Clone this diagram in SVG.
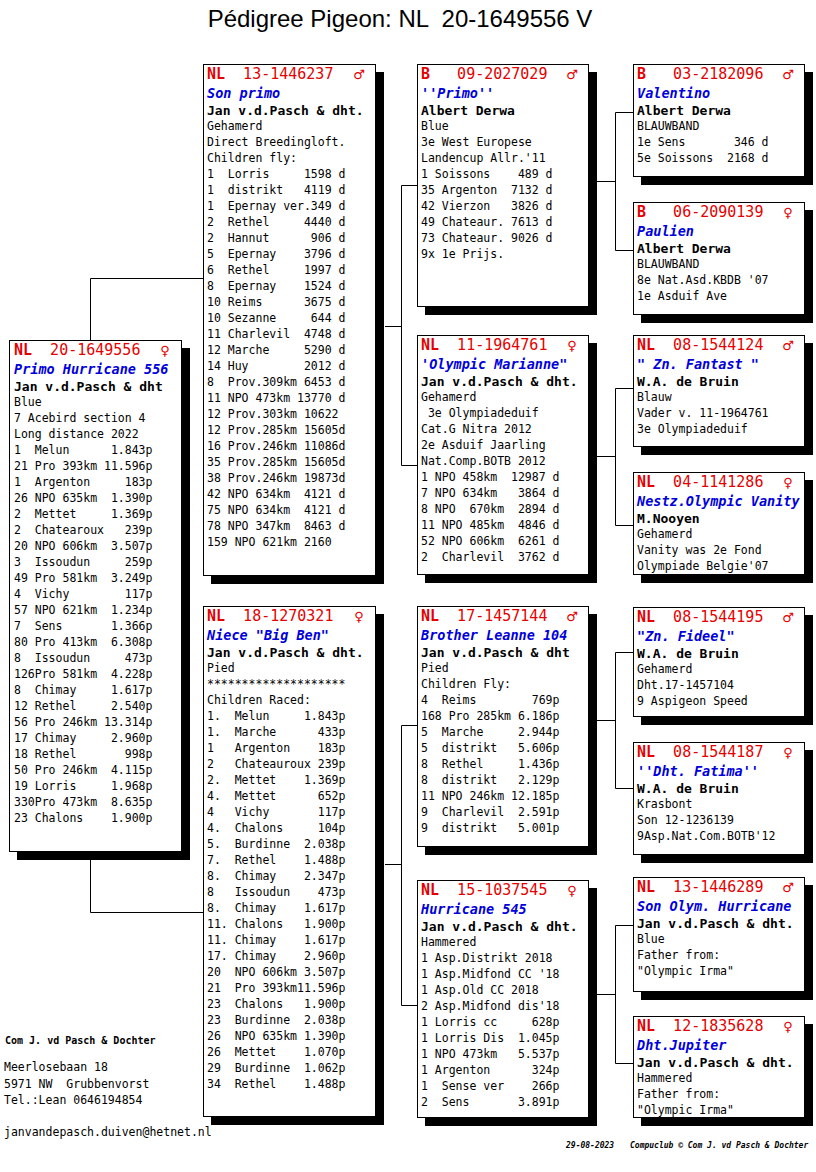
<svg xmlns="http://www.w3.org/2000/svg" width="816" height="1172" viewBox="0 0 816 1172">
<style>
text{white-space:pre}
.bg{fill:#fff}
.sh{fill:#000}
.bx{fill:#fff;stroke:#000;stroke-width:1}
.hd{font-family:"DejaVu Sans Mono",monospace;font-size:15px;fill:#e60000}
.b{font-weight:bold}
.gs{font-family:"DejaVu Sans",sans-serif;font-size:13px;fill:#e60000;text-anchor:middle}
.nm{font-family:"DejaVu Sans Mono",monospace;font-size:13.5px;font-style:italic;font-weight:bold;fill:#0000dd}
.ow{font-family:"DejaVu Sans Mono",monospace;font-size:13px;font-weight:bold;fill:#000}
.tx{font-family:"DejaVu Sans Mono",monospace;font-size:11.5px;fill:#000}
.ft{font-family:"DejaVu Sans Mono",monospace;font-size:8px;font-style:italic;font-weight:bold;fill:#000}
.con{fill:none;stroke:#000;stroke-width:1}
</style>
<rect class="bg" x="0" y="0" width="816" height="1172"/>
<text xml:space="preserve" x="400" y="27" font-family="Liberation Sans, Arial, sans-serif" font-size="24" text-anchor="middle">Pédigree Pigeon: NL  20-1649556 V</text>

<g id="connectors">
<path class="con" d="M90.5,340 V278.5 H203"/>
<path class="con" d="M90.5,860 V912.5 H203"/>
<path class="con" d="M385,326.5 H401.5"/>
<path class="con" d="M417,185.5 H401.5 V465.5 H417"/>
<path class="con" d="M385,864.5 H401.5"/>
<path class="con" d="M417,725.5 H401.5 V1005.5 H417"/>
<path class="con" d="M597,181.5 H615.5"/>
<path class="con" d="M633,112.5 H615.5 V250.5 H633"/>
<path class="con" d="M597,456.5 H615.5"/>
<path class="con" d="M633,388.5 H615.5 V525.5 H633"/>
<path class="con" d="M597,720.5 H615.5"/>
<path class="con" d="M633,652.5 H615.5 V788.5 H633"/>
<path class="con" d="M597,994.5 H615.5"/>
<path class="con" d="M633,925.5 H615.5 V1063.5 H633"/>
</g>

<g id="n-20-1649556">
<rect class="sh" x="17" y="348" width="173" height="512"/>
<rect class="bx" x="9.5" y="340.5" width="172" height="511"/>
<text xml:space="preserve" class="hd" x="14" y="355"><tspan class="b">NL</tspan>  20-1649556</text>
<text class="gs" x="165" y="355">♀</text>
<text xml:space="preserve" class="nm" x="14" y="374">Primo Hurricane 556</text>
<text xml:space="preserve" class="ow" x="14" y="391">Jan v.d.Pasch &amp; dht</text>
<text xml:space="preserve" class="tx" x="14" y="406"><tspan x="14">Blue</tspan><tspan x="14" dy="16">7 Acebird section 4</tspan><tspan x="14" dy="16">Long distance 2022</tspan><tspan x="14" dy="16">1  Melun      1.843p</tspan><tspan x="14" dy="16">21 Pro 393km 11.596p</tspan><tspan x="14" dy="16">1  Argenton     183p</tspan><tspan x="14" dy="16">26 NPO 635km  1.390p</tspan><tspan x="14" dy="16">2  Mettet     1.369p</tspan><tspan x="14" dy="16">2  Chatearoux   239p</tspan><tspan x="14" dy="16">20 NPO 606km  3.507p</tspan><tspan x="14" dy="16">3  Issoudun     259p</tspan><tspan x="14" dy="16">49 Pro 581km  3.249p</tspan><tspan x="14" dy="16">4  Vichy        117p</tspan><tspan x="14" dy="16">57 NPO 621km  1.234p</tspan><tspan x="14" dy="16">7  Sens       1.366p</tspan><tspan x="14" dy="16">80 Pro 413km  6.308p</tspan><tspan x="14" dy="16">8  Issoudun     473p</tspan><tspan x="14" dy="16">126Pro 581km  4.228p</tspan><tspan x="14" dy="16">8  Chimay     1.617p</tspan><tspan x="14" dy="16">12 Rethel     2.540p</tspan><tspan x="14" dy="16">56 Pro 246km 13.314p</tspan><tspan x="14" dy="16">17 Chimay     2.960p</tspan><tspan x="14" dy="16">18 Rethel       998p</tspan><tspan x="14" dy="16">50 Pro 246km  4.115p</tspan><tspan x="14" dy="16">19 Lorris     1.968p</tspan><tspan x="14" dy="16">330Pro 473km  8.635p</tspan><tspan x="14" dy="16">23 Chalons    1.900p</tspan></text>
</g>

<g id="n-13-1446237">
<rect class="sh" x="211" y="72" width="173" height="512"/>
<rect class="bx" x="203.5" y="64.5" width="172" height="511"/>
<text xml:space="preserve" class="hd" x="207" y="79"><tspan class="b">NL</tspan>  13-1446237</text>
<text class="gs" x="359" y="79">♂</text>
<text xml:space="preserve" class="nm" x="207" y="98">Son primo</text>
<text xml:space="preserve" class="ow" x="207" y="115">Jan v.d.Pasch &amp; dht.</text>
<text xml:space="preserve" class="tx" x="207" y="130"><tspan x="207">Gehamerd</tspan><tspan x="207" dy="16">Direct Breedingloft.</tspan><tspan x="207" dy="16">Children fly:</tspan><tspan x="207" dy="16">1  Lorris     1598 d</tspan><tspan x="207" dy="16">1  distrikt   4119 d</tspan><tspan x="207" dy="16">1  Epernay ver.349 d</tspan><tspan x="207" dy="16">2  Rethel     4440 d</tspan><tspan x="207" dy="16">2  Hannut      906 d</tspan><tspan x="207" dy="16">5  Epernay    3796 d</tspan><tspan x="207" dy="16">6  Rethel     1997 d</tspan><tspan x="207" dy="16">8  Epernay    1524 d</tspan><tspan x="207" dy="16">10 Reims      3675 d</tspan><tspan x="207" dy="16">10 Sezanne     644 d</tspan><tspan x="207" dy="16">11 Charlevil  4748 d</tspan><tspan x="207" dy="16">12 Marche     5290 d</tspan><tspan x="207" dy="16">14 Huy        2012 d</tspan><tspan x="207" dy="16">8  Prov.309km 6453 d</tspan><tspan x="207" dy="16">11 NPO 473km 13770 d</tspan><tspan x="207" dy="16">12 Prov.303km 10622</tspan><tspan x="207" dy="16">12 Prov.285km 15605d</tspan><tspan x="207" dy="16">16 Prov.246km 11086d</tspan><tspan x="207" dy="16">35 Prov.285km 15605d</tspan><tspan x="207" dy="16">38 Prov.246km 19873d</tspan><tspan x="207" dy="16">42 NPO 634km  4121 d</tspan><tspan x="207" dy="16">75 NPO 634km  4121 d</tspan><tspan x="207" dy="16">78 NPO 347km  8463 d</tspan><tspan x="207" dy="16">159 NPO 621km 2160</tspan></text>
</g>

<g id="n-18-1270321">
<rect class="sh" x="211" y="614" width="173" height="511"/>
<rect class="bx" x="203.5" y="606.5" width="172" height="510"/>
<text xml:space="preserve" class="hd" x="207" y="621"><tspan class="b">NL</tspan>  18-1270321</text>
<text class="gs" x="359" y="621">♀</text>
<text xml:space="preserve" class="nm" x="207" y="640">Niece "Big Ben"</text>
<text xml:space="preserve" class="ow" x="207" y="657">Jan v.d.Pasch &amp; dht.</text>
<text xml:space="preserve" class="tx" x="207" y="672"><tspan x="207">Pied</tspan><tspan x="207" dy="16">********************</tspan><tspan x="207" dy="16">Children Raced:</tspan><tspan x="207" dy="16">1.  Melun     1.843p</tspan><tspan x="207" dy="16">1.  Marche      433p</tspan><tspan x="207" dy="16">1   Argenton    183p</tspan><tspan x="207" dy="16">2   Chateauroux 239p</tspan><tspan x="207" dy="16">2.  Mettet    1.369p</tspan><tspan x="207" dy="16">4.  Mettet      652p</tspan><tspan x="207" dy="16">4   Vichy       117p</tspan><tspan x="207" dy="16">4.  Chalons     104p</tspan><tspan x="207" dy="16">5.  Burdinne  2.038p</tspan><tspan x="207" dy="16">7.  Rethel    1.488p</tspan><tspan x="207" dy="16">8.  Chimay    2.347p</tspan><tspan x="207" dy="16">8   Issoudun    473p</tspan><tspan x="207" dy="16">8.  Chimay    1.617p</tspan><tspan x="207" dy="16">11. Chalons   1.900p</tspan><tspan x="207" dy="16">11. Chimay    1.617p</tspan><tspan x="207" dy="16">17. Chimay    2.960p</tspan><tspan x="207" dy="16">20  NPO 606km 3.507p</tspan><tspan x="207" dy="16">21  Pro 393km11.596p</tspan><tspan x="207" dy="16">23  Chalons   1.900p</tspan><tspan x="207" dy="16">23  Burdinne  2.038p</tspan><tspan x="207" dy="16">26  NPO 635km 1.390p</tspan><tspan x="207" dy="16">26  Mettet    1.070p</tspan><tspan x="207" dy="16">29  Burdinne  1.062p</tspan><tspan x="207" dy="16">34  Rethel    1.488p</tspan></text>
</g>

<g id="n-09-2027029">
<rect class="sh" x="425" y="72" width="172" height="243"/>
<rect class="bx" x="417.5" y="64.5" width="171" height="242"/>
<text xml:space="preserve" class="hd" x="421" y="79"><tspan class="b">B</tspan>   09-2027029</text>
<text class="gs" x="572" y="79">♂</text>
<text xml:space="preserve" class="nm" x="421" y="98">''Primo''</text>
<text xml:space="preserve" class="ow" x="421" y="115">Albert Derwa</text>
<text xml:space="preserve" class="tx" x="421" y="130"><tspan x="421">Blue</tspan><tspan x="421" dy="16">3e West Europese</tspan><tspan x="421" dy="16">Landencup Allr.'11</tspan><tspan x="421" dy="16">1 Soissons    489 d</tspan><tspan x="421" dy="16">35 Argenton  7132 d</tspan><tspan x="421" dy="16">42 Vierzon   3826 d</tspan><tspan x="421" dy="16">49 Chateaur. 7613 d</tspan><tspan x="421" dy="16">73 Chateaur. 9026 d</tspan><tspan x="421" dy="16">9x 1e Prijs.</tspan></text>
</g>

<g id="n-11-1964761">
<rect class="sh" x="425" y="343" width="172" height="240"/>
<rect class="bx" x="417.5" y="335.5" width="171" height="239"/>
<text xml:space="preserve" class="hd" x="421" y="350"><tspan class="b">NL</tspan>  11-1964761</text>
<text class="gs" x="572" y="350">♀</text>
<text xml:space="preserve" class="nm" x="421" y="369">'Olympic Marianne"</text>
<text xml:space="preserve" class="ow" x="421" y="386">Jan v.d.Pasch &amp; dht.</text>
<text xml:space="preserve" class="tx" x="421" y="401"><tspan x="421">Gehamerd</tspan><tspan x="421" dy="16"> 3e Olympiadeduif</tspan><tspan x="421" dy="16">Cat.G Nitra 2012</tspan><tspan x="421" dy="16">2e Asduif Jaarling</tspan><tspan x="421" dy="16">Nat.Comp.BOTB 2012</tspan><tspan x="421" dy="16">1 NPO 458km  12987 d</tspan><tspan x="421" dy="16">7 NPO 634km   3864 d</tspan><tspan x="421" dy="16">8 NPO  670km  2894 d</tspan><tspan x="421" dy="16">11 NPO 485km  4846 d</tspan><tspan x="421" dy="16">52 NPO 606km  6261 d</tspan><tspan x="421" dy="16">2  Charlevil  3762 d</tspan></text>
</g>

<g id="n-17-1457144">
<rect class="sh" x="425" y="614" width="172" height="241"/>
<rect class="bx" x="417.5" y="606.5" width="171" height="240"/>
<text xml:space="preserve" class="hd" x="421" y="621"><tspan class="b">NL</tspan>  17-1457144</text>
<text class="gs" x="572" y="621">♂</text>
<text xml:space="preserve" class="nm" x="421" y="640">Brother Leanne 104</text>
<text xml:space="preserve" class="ow" x="421" y="657">Jan v.d.Pasch &amp; dht</text>
<text xml:space="preserve" class="tx" x="421" y="672"><tspan x="421">Pied</tspan><tspan x="421" dy="16">Children Fly:</tspan><tspan x="421" dy="16">4  Reims        769p</tspan><tspan x="421" dy="16">168 Pro 285km 6.186p</tspan><tspan x="421" dy="16">5  Marche     2.944p</tspan><tspan x="421" dy="16">5  distrikt   5.606p</tspan><tspan x="421" dy="16">8  Rethel     1.436p</tspan><tspan x="421" dy="16">8  distrikt   2.129p</tspan><tspan x="421" dy="16">11 NPO 246km 12.185p</tspan><tspan x="421" dy="16">9  Charlevil  2.591p</tspan><tspan x="421" dy="16">9  distrikt   5.001p</tspan></text>
</g>

<g id="n-15-1037545">
<rect class="sh" x="425" y="888" width="172" height="238"/>
<rect class="bx" x="417.5" y="880.5" width="171" height="237"/>
<text xml:space="preserve" class="hd" x="421" y="895"><tspan class="b">NL</tspan>  15-1037545</text>
<text class="gs" x="572" y="895">♀</text>
<text xml:space="preserve" class="nm" x="421" y="914">Hurricane 545</text>
<text xml:space="preserve" class="ow" x="421" y="931">Jan v.d.Pasch &amp; dht.</text>
<text xml:space="preserve" class="tx" x="421" y="946"><tspan x="421">Hammered</tspan><tspan x="421" dy="16">1 Asp.Distrikt 2018</tspan><tspan x="421" dy="16">1 Asp.Midfond CC '18</tspan><tspan x="421" dy="16">1 Asp.Old CC 2018</tspan><tspan x="421" dy="16">2 Asp.Midfond dis'18</tspan><tspan x="421" dy="16">1 Lorris cc     628p</tspan><tspan x="421" dy="16">1 Lorris Dis  1.045p</tspan><tspan x="421" dy="16">1 NPO 473km   5.537p</tspan><tspan x="421" dy="16">1 Argenton      324p</tspan><tspan x="421" dy="16">1  Sense ver    266p</tspan><tspan x="421" dy="16">2  Sens       3.891p</tspan></text>
</g>

<g id="n-03-2182096">
<rect class="sh" x="641" y="72" width="172" height="113"/>
<rect class="bx" x="633.5" y="64.5" width="171" height="112"/>
<text xml:space="preserve" class="hd" x="637" y="79"><tspan class="b">B</tspan>   03-2182096</text>
<text class="gs" x="788" y="79">♂</text>
<text xml:space="preserve" class="nm" x="637" y="98">Valentino</text>
<text xml:space="preserve" class="ow" x="637" y="115">Albert Derwa</text>
<text xml:space="preserve" class="tx" x="637" y="130"><tspan x="637">BLAUWBAND</tspan><tspan x="637" dy="16">1e Sens       346 d</tspan><tspan x="637" dy="16">5e Soissons  2168 d</tspan></text>
</g>

<g id="n-06-2090139">
<rect class="sh" x="641" y="210" width="172" height="113"/>
<rect class="bx" x="633.5" y="202.5" width="171" height="112"/>
<text xml:space="preserve" class="hd" x="637" y="217"><tspan class="b">B</tspan>   06-2090139</text>
<text class="gs" x="788" y="217">♀</text>
<text xml:space="preserve" class="nm" x="637" y="236">Paulien</text>
<text xml:space="preserve" class="ow" x="637" y="253">Albert Derwa</text>
<text xml:space="preserve" class="tx" x="637" y="268"><tspan x="637">BLAUWBAND</tspan><tspan x="637" dy="16">8e Nat.Asd.KBDB '07</tspan><tspan x="637" dy="16">1e Asduif Ave</tspan></text>
</g>

<g id="n-08-1544124">
<rect class="sh" x="641" y="343" width="172" height="112"/>
<rect class="bx" x="633.5" y="335.5" width="171" height="111"/>
<text xml:space="preserve" class="hd" x="637" y="350"><tspan class="b">NL</tspan>  08-1544124</text>
<text class="gs" x="788" y="350">♂</text>
<text xml:space="preserve" class="nm" x="637" y="369">" Zn. Fantast "</text>
<text xml:space="preserve" class="ow" x="637" y="386">W.A. de Bruin</text>
<text xml:space="preserve" class="tx" x="637" y="401"><tspan x="637">Blauw</tspan><tspan x="637" dy="16">Vader v. 11-1964761</tspan><tspan x="637" dy="16">3e Olympiadeduif</tspan></text>
</g>

<g id="n-04-1141286">
<rect class="sh" x="641" y="480" width="172" height="103"/>
<rect class="bx" x="633.5" y="472.5" width="171" height="102"/>
<text xml:space="preserve" class="hd" x="637" y="487"><tspan class="b">NL</tspan>  04-1141286</text>
<text class="gs" x="788" y="487">♀</text>
<text xml:space="preserve" class="nm" x="637" y="506">Nestz.Olympic Vanity</text>
<text xml:space="preserve" class="ow" x="637" y="523">M.Nooyen</text>
<text xml:space="preserve" class="tx" x="637" y="538"><tspan x="637">Gehamerd</tspan><tspan x="637" dy="16">Vanity was 2e Fond</tspan><tspan x="637" dy="16">Olympiade Belgie'07</tspan></text>
</g>

<g id="n-08-1544195">
<rect class="sh" x="641" y="615" width="172" height="110"/>
<rect class="bx" x="633.5" y="607.5" width="171" height="109"/>
<text xml:space="preserve" class="hd" x="637" y="622"><tspan class="b">NL</tspan>  08-1544195</text>
<text class="gs" x="788" y="622">♂</text>
<text xml:space="preserve" class="nm" x="637" y="641">"Zn. Fideel"</text>
<text xml:space="preserve" class="ow" x="637" y="658">W.A. de Bruin</text>
<text xml:space="preserve" class="tx" x="637" y="673"><tspan x="637">Gehamerd</tspan><tspan x="637" dy="16">Dht.17-1457104</tspan><tspan x="637" dy="16">9 Aspigeon Speed</tspan></text>
</g>

<g id="n-08-1544187">
<rect class="sh" x="641" y="750" width="172" height="113"/>
<rect class="bx" x="633.5" y="742.5" width="171" height="112"/>
<text xml:space="preserve" class="hd" x="637" y="757"><tspan class="b">NL</tspan>  08-1544187</text>
<text class="gs" x="788" y="757">♀</text>
<text xml:space="preserve" class="nm" x="637" y="776">''Dht. Fatima''</text>
<text xml:space="preserve" class="ow" x="637" y="793">W.A. de Bruin</text>
<text xml:space="preserve" class="tx" x="637" y="808"><tspan x="637">Krasbont</tspan><tspan x="637" dy="16">Son 12-1236139</tspan><tspan x="637" dy="16">9Asp.Nat.Com.BOTB'12</tspan></text>
</g>

<g id="n-13-1446289">
<rect class="sh" x="641" y="885" width="172" height="115"/>
<rect class="bx" x="633.5" y="877.5" width="171" height="114"/>
<text xml:space="preserve" class="hd" x="637" y="892"><tspan class="b">NL</tspan>  13-1446289</text>
<text class="gs" x="788" y="892">♂</text>
<text xml:space="preserve" class="nm" x="637" y="911">Son Olym. Hurricane</text>
<text xml:space="preserve" class="ow" x="637" y="928">Jan v.d.Pasch &amp; dht.</text>
<text xml:space="preserve" class="tx" x="637" y="943"><tspan x="637">Blue</tspan><tspan x="637" dy="16">Father from:</tspan><tspan x="637" dy="16">"Olympic Irma"</tspan></text>
</g>

<g id="n-12-1835628">
<rect class="sh" x="641" y="1024" width="172" height="102"/>
<rect class="bx" x="633.5" y="1016.5" width="171" height="101"/>
<text xml:space="preserve" class="hd" x="637" y="1031"><tspan class="b">NL</tspan>  12-1835628</text>
<text class="gs" x="788" y="1031">♀</text>
<text xml:space="preserve" class="nm" x="637" y="1050">Dht.Jupiter</text>
<text xml:space="preserve" class="ow" x="637" y="1067">Jan v.d.Pasch &amp; dht.</text>
<text xml:space="preserve" class="tx" x="637" y="1082"><tspan x="637">Hammered</tspan><tspan x="637" dy="16">Father from:</tspan><tspan x="637" dy="16">"Olympic Irma"</tspan></text>
</g>

<g id="address">
<text xml:space="preserve" x="5" y="1044" font-family="DejaVu Sans Mono, monospace" font-size="10" font-weight="bold">Com J. vd Pasch &amp; Dochter</text>
<text xml:space="preserve" class="tx" x="4" y="1071">Meerlosebaan 18</text>
<text xml:space="preserve" class="tx" x="4" y="1088">5971 NW  Grubbenvorst</text>
<text xml:space="preserve" class="tx" x="4" y="1104">Tel.:Lean 0646194854</text>
<text xml:space="preserve" class="tx" x="4" y="1136">janvandepasch.duiven@hetnet.nl</text>
</g>
<g id="footer">
<text xml:space="preserve" class="ft" x="566" y="1148">29-08-2023</text>
<text xml:space="preserve" class="ft" x="630" y="1148">Compuclub © Com J. vd Pasch &amp; Dochter</text>
</g>
</svg>
